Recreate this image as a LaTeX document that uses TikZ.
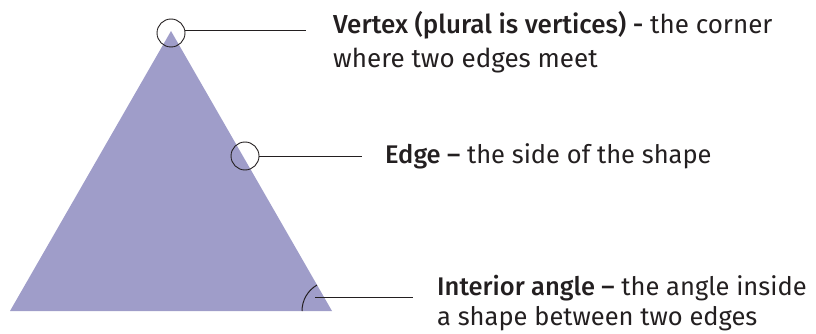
\documentclass[tikz,border=0pt]{standalone}
\usepackage{fontspec}
\setmainfont{Fira Sans}[BoldFont={Fira Sans Medium}]
\usepackage{xcolor}
\definecolor{shapefill}{RGB}{159,157,201}
\definecolor{ink}{RGB}{35,31,32}

\begin{document}
\begin{tikzpicture}[x=1pt, y=-1pt,
    mark circ/.style={draw=ink, circle, minimum size=28pt, inner sep=0pt, line width=0.9pt},
    leader/.style={draw=ink, line width=1pt},
    lbl/.style={anchor=base west, align=left, inner sep=0pt, text=ink, font=\fontsize{25.5}{34}\selectfont}
]
\useasboundingbox (0,0) rectangle (816,334);
% the shape
\fill[shapefill] (10,311) -- (171,31) -- (332,311) -- cycle;

% vertex
\node[mark circ] (vc) at (171,33) {};
\coordinate (vend) at (306,31);
\draw[leader] (vc.east |- vend) -- (vend);
\node[lbl, font=\fontsize{26}{34}\selectfont] (vtxt) at (333,68) {\textbf{Vertex (plural is vertices) -} the corner\\where two edges meet};

% edge
\node[mark circ] (ec) at (245,156) {};
\coordinate (eend) at (362,156);
\draw[leader] (ec.east) -- (eend);
\node[lbl] (etxt) at (385,164) {\textbf{Edge --} the side of the shape};

% interior angle
\coordinate (corner) at (332,311);
\draw[leader] ([shift={(180:30)}]corner) arc[start angle=180, end angle=240, radius=30];
\coordinate (astart) at (315,297);
\coordinate (aend) at (413,297);
\draw[leader] (astart) -- (aend);
\node[lbl, font=\fontsize{25.5}{30}\selectfont] (atxt) at (437,325) {\textbf{Interior angle --} the angle inside\\a shape between two edges};
\end{tikzpicture}
\end{document}
